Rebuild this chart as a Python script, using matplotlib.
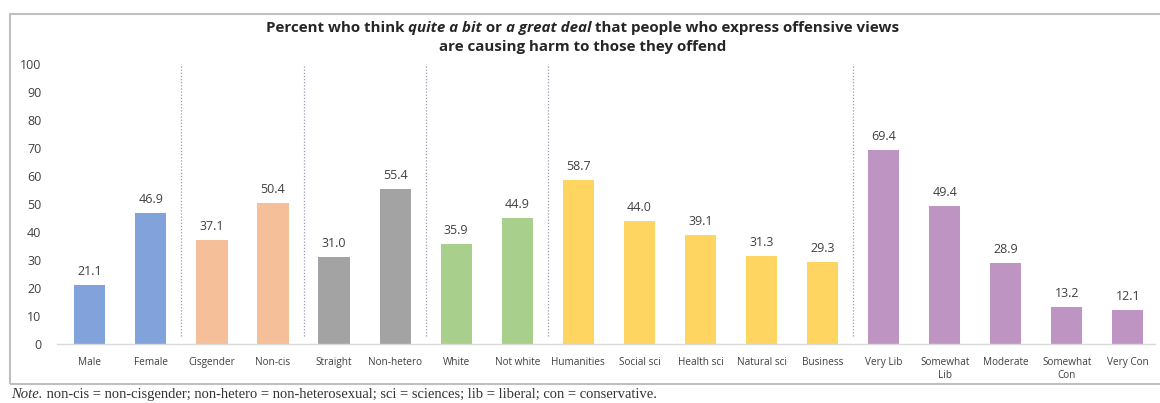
import matplotlib
matplotlib.use("Agg")
import matplotlib.pyplot as plt
from matplotlib.offsetbox import TextArea, HPacker, VPacker, AnchoredOffsetbox
from matplotlib.patches import Rectangle

# data
categories = ["Male", "Female", "Cisgender", "Non-cis", "Straight", "Non-hetero",
              "White", "Not white", "Humanities", "Social sci", "Health sci",
              "Natural sci", "Business", "Very Lib", "Somewhat\nLib", "Moderate",
              "Somewhat\nCon", "Very Con"]
values = [21.1, 46.9, 37.1, 50.4, 31.0, 55.4, 35.9, 44.9, 58.7, 44.0, 39.1,
          31.3, 29.3, 69.4, 49.4, 28.9, 13.2, 12.1]
groups = [0, 0, 1, 1, 2, 2, 3, 3, 4, 4, 4, 4, 4, 5, 5, 5, 5, 5]
group_colors = ["#82a2dc", "#f5bf99", "#a3a3a3", "#a8d08c", "#fdd560", "#be95c2"]
separators = [1.5, 3.5, 5.5, 7.5, 12.5]

fig = plt.figure(figsize=(11.6, 4.03), dpi=100)
ax = fig.add_axes([0.049, 0.146, 0.947, 0.695])

x = list(range(len(categories)))
colors = [group_colors[g] for g in groups]
bars = ax.bar(x, values, width=0.51, color=colors, zorder=2)

for xi, v in zip(x, values):
    ax.text(xi, v + 2.5, f"{v:.1f}", ha="center", va="bottom",
            fontsize=9, color="#404040", family="Open Sans")

for s in separators:
    ax.plot([s, s], [3, 100], color="#9a9ab0", linestyle=(0, (1, 1.5)),
            linewidth=0.9, zorder=1)

ax.set_xlim(-0.54, 17.45)
ax.set_ylim(0, 100)
ax.set_yticks(range(0, 101, 10))
ax.set_xticks(x)
ax.set_xticklabels(categories, fontsize=7.2, color="#404040", family="Open Sans",
                   linespacing=1.25)
ax.tick_params(axis="y", length=0, labelsize=9, labelcolor="#404040", pad=11)
ax.tick_params(axis="x", length=0, pad=9)
for lab in ax.get_yticklabels():
    lab.set_family("Open Sans")
for side in ["top", "right", "left"]:
    ax.spines[side].set_visible(False)
ax.spines["bottom"].set_color("#d9d9d9")
ax.spines["bottom"].set_linewidth(1)

# title with mixed styles
tp = dict(fontsize=10.9, fontweight="bold", color="#262626", family="Open Sans")
ti = dict(fontsize=10.9, fontweight="bold", fontstyle="italic", color="#262626",
          family="Open Sans")
line1 = HPacker(children=[
    TextArea("Percent who think ", textprops=tp),
    TextArea("quite a bit", textprops=ti),
    TextArea(" or ", textprops=tp),
    TextArea("a great deal", textprops=ti),
    TextArea(" that people who express offensive views", textprops=tp),
], align="baseline", pad=0, sep=0)
line2 = TextArea("are causing harm to those they offend", textprops=tp)
title = VPacker(children=[line1, line2], align="center", pad=0, sep=3)
fig.add_artist(AnchoredOffsetbox(loc="center", child=title, frameon=False,
                                 bbox_to_anchor=(0.502, 0.907),
                                 bbox_transform=fig.transFigure, pad=0))

# outer frame
fig.add_artist(Rectangle((0.009, 0.047), 1.0, 0.918, transform=fig.transFigure,
                         fill=False, edgecolor="#bfbfbf", linewidth=1.5))

# note
nt = dict(fontsize=10.5, color="#333333", family="Liberation Serif")
note = HPacker(children=[
    TextArea("Note.", textprops=dict(nt, fontstyle="italic")),
    TextArea(" non-cis = non-cisgender; non-hetero = non-heterosexual; sci = sciences; "
             "lib = liberal; con = conservative.", textprops=nt),
], align="baseline", pad=0, sep=0)
fig.add_artist(AnchoredOffsetbox(loc="center left", child=note, frameon=False,
                                 bbox_to_anchor=(0.004, 0.02),
                                 bbox_transform=fig.transFigure, pad=0))

fig.savefig("out.png", dpi=100)
